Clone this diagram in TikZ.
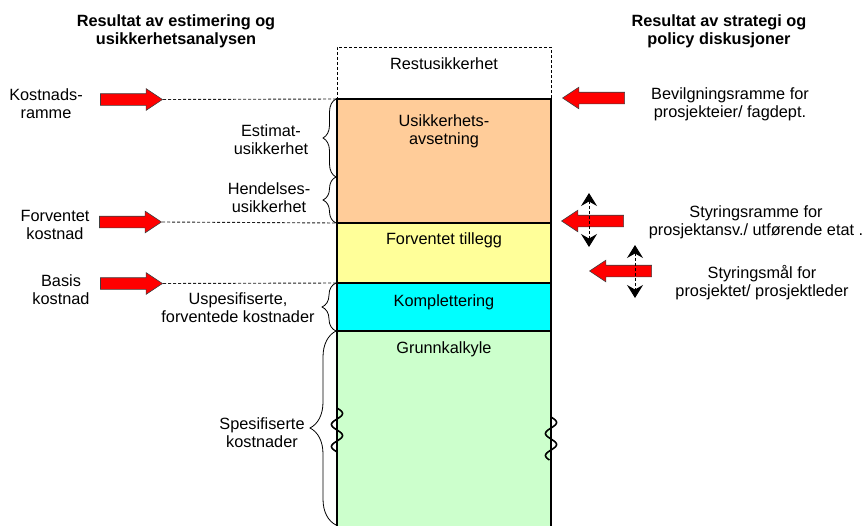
\documentclass[tikz,border=0pt]{standalone}
\usepackage{fontspec}
\setmainfont{Liberation Sans}
\usetikzlibrary{shapes.arrows,decorations.pathreplacing,arrows.meta}
\definecolor{peach}{HTML}{FFCC99}
\definecolor{lyellow}{HTML}{FFFF99}
\definecolor{lgreen}{HTML}{CCFFCC}
\definecolor{cyanbox}{HTML}{00FFFF}
\definecolor{dashgray}{HTML}{202020}
\begin{document}
\begin{tikzpicture}[x=1pt,y=-1pt,
  font=\fontsize{16.3}{18}\selectfont,
  lbl/.style={align=center, inner sep=0pt},
  hdr/.style={align=center, inner sep=0pt, font=\fontsize{16.3}{18}\selectfont\bfseries},
  costbox/.style={draw=black, line width=1.8pt, minimum width=214pt, anchor=north west, inner sep=0pt, outer sep=0pt},
  restbox/.style={draw=black, dash pattern=on 3pt off 2pt, line width=0.9pt, minimum width=214pt, anchor=north west, inner sep=0pt, outer sep=0pt},
  redarrow/.style={single arrow, draw=black!75, line width=0.6pt, fill=red,
    minimum height=62pt, minimum width=21pt, inner xsep=0pt, inner ysep=5.5pt,
    single arrow head extend=5pt, single arrow head indent=0pt,
    single arrow tip angle=67, anchor=tip},
  leftarrow/.style={redarrow, shape border rotate=180},
  dashline/.style={draw=dashgray, line width=0.9pt, dash pattern=on 3pt off 2pt},
  bracestyle/.style={draw=black, line width=0.8pt, decorate},
  wave/.style={draw=black, line width=1.6pt},
  updown/.style={draw=black, line width=0.9pt, dash pattern=on 3pt off 2pt,
    >={Stealth[length=13pt,width=16pt,inset=4.5pt]}, <->}
]
\clip (0,0) rectangle (866,525);
\useasboundingbox (0,0) rectangle (866,525);
\fill[white] (0,0) rectangle (866,525);

% column of boxes
\node[restbox, minimum height=52pt] (rest) at (337,47) {};
\node[costbox, fill=lgreen, minimum height=215pt] (grunn) at (337,331) {};
\node[costbox, fill=cyanbox, minimum height=48pt] (kompl) at (337,283) {};
\node[costbox, fill=lyellow, minimum height=60pt] (tillegg) at (337,223) {};
\node[costbox, fill=peach, minimum height=124pt] (usik) at (337,99) {};

\node[lbl] (restT) at (444,64) {Restusikkerhet};
\node[lbl] (usikT) at (444,131.5) {Usikkerhets-\\avsetning};
\node[lbl] (tilleggT) at (444,240.5) {Forventet tillegg};
\node[lbl] (komplT) at (444,302.5) {Komplettering};
\node[lbl] (grunnT) at (444,349.5) {Grunnkalkyle};

% break marks
\draw[wave] plot[domain=0:44, samples=80, smooth, variable=\t] ({337+5.5*sin(\t*360/22)}, {408+\t});
\draw[wave] plot[domain=0:43, samples=80, smooth, variable=\t] ({551+5.5*sin(\t*360/22)}, {417+\t});

% headings
\node[hdr] (hL) at (176,31.5) {Resultat av estimering og\\usikkerhetsanalysen};
\node[hdr] (hR) at (719,31.5) {Resultat av strategi og\\policy diskusjoner};

% left red arrows and levels
\node[redarrow] (aK) at (163,99.5) {};
\node[redarrow] (aF) at (162,222) {};
\node[redarrow] (aB) at (163,283.5) {};
\draw[dashline] (aK.tip) -- (usik.north west);
\draw[dashline] (aF.tip) -- (usik.south west);
\draw[dashline] (aB.tip) -- (kompl.north west);

\node[lbl] (kostT) at (46,104) {Kostnads-\\ramme};
\node[lbl] (forvT) at (55,225) {Forventet\\kostnad};
\node[lbl] (basisT) at (61,290) {Basis\\kostnad};

% braces
\coordinate (b1t) at (336,99);
\coordinate (b1b) at (336,177);
\coordinate (b2b) at (336,223);
\coordinate (b3t) at (336,283);
\coordinate (b3b) at (336,331);
\coordinate (b4b) at (336,525);
\draw[bracestyle, decoration={brace, amplitude=13pt}] (b1b) -- (b1t);
\draw[bracestyle, decoration={brace, amplitude=13pt}] (b2b) -- (b1b);
\draw[bracestyle, decoration={brace, amplitude=14pt}] (b3b) -- (b3t);
\draw[bracestyle, decoration={brace, amplitude=26pt}] (b4b) -- (b3b);

\node[lbl] (estT) at (271,140) {Estimat-\\usikkerhet};
\node[lbl] (hendT) at (269,198) {Hendelses-\\usikkerhet};
\node[lbl] (uspT) at (238,308) {Uspesifiserte,\\forventede kostnader};
\node[lbl] (spesT) at (262,433) {Spesifiserte\\kostnader};

% right side
\node[leftarrow] (rB) at (562,98) {};
\node[leftarrow] (rS) at (561,221) {};
\node[leftarrow] (rM) at (589,271) {};

\coordinate (v1t) at (589,193);
\coordinate (v1b) at (589,247);
\coordinate (v2t) at (635,245);
\coordinate (v2b) at (635,298);
\draw[updown] (v1t) -- (v1b);
\draw[updown] (v2t) -- (v2b);

\node[lbl] (bevT) at (730,104.5) {Bevilgningsramme for\\prosjekteier/ fagdept.};
\node[lbl] (styrT) at (756,222.5) {Styringsramme for\\prosjektansv./ utførende etat .};
\node[lbl] (malT) at (762,282.5) {Styringsmål for\\prosjektet/ prosjektleder};
\end{tikzpicture}
\end{document}
